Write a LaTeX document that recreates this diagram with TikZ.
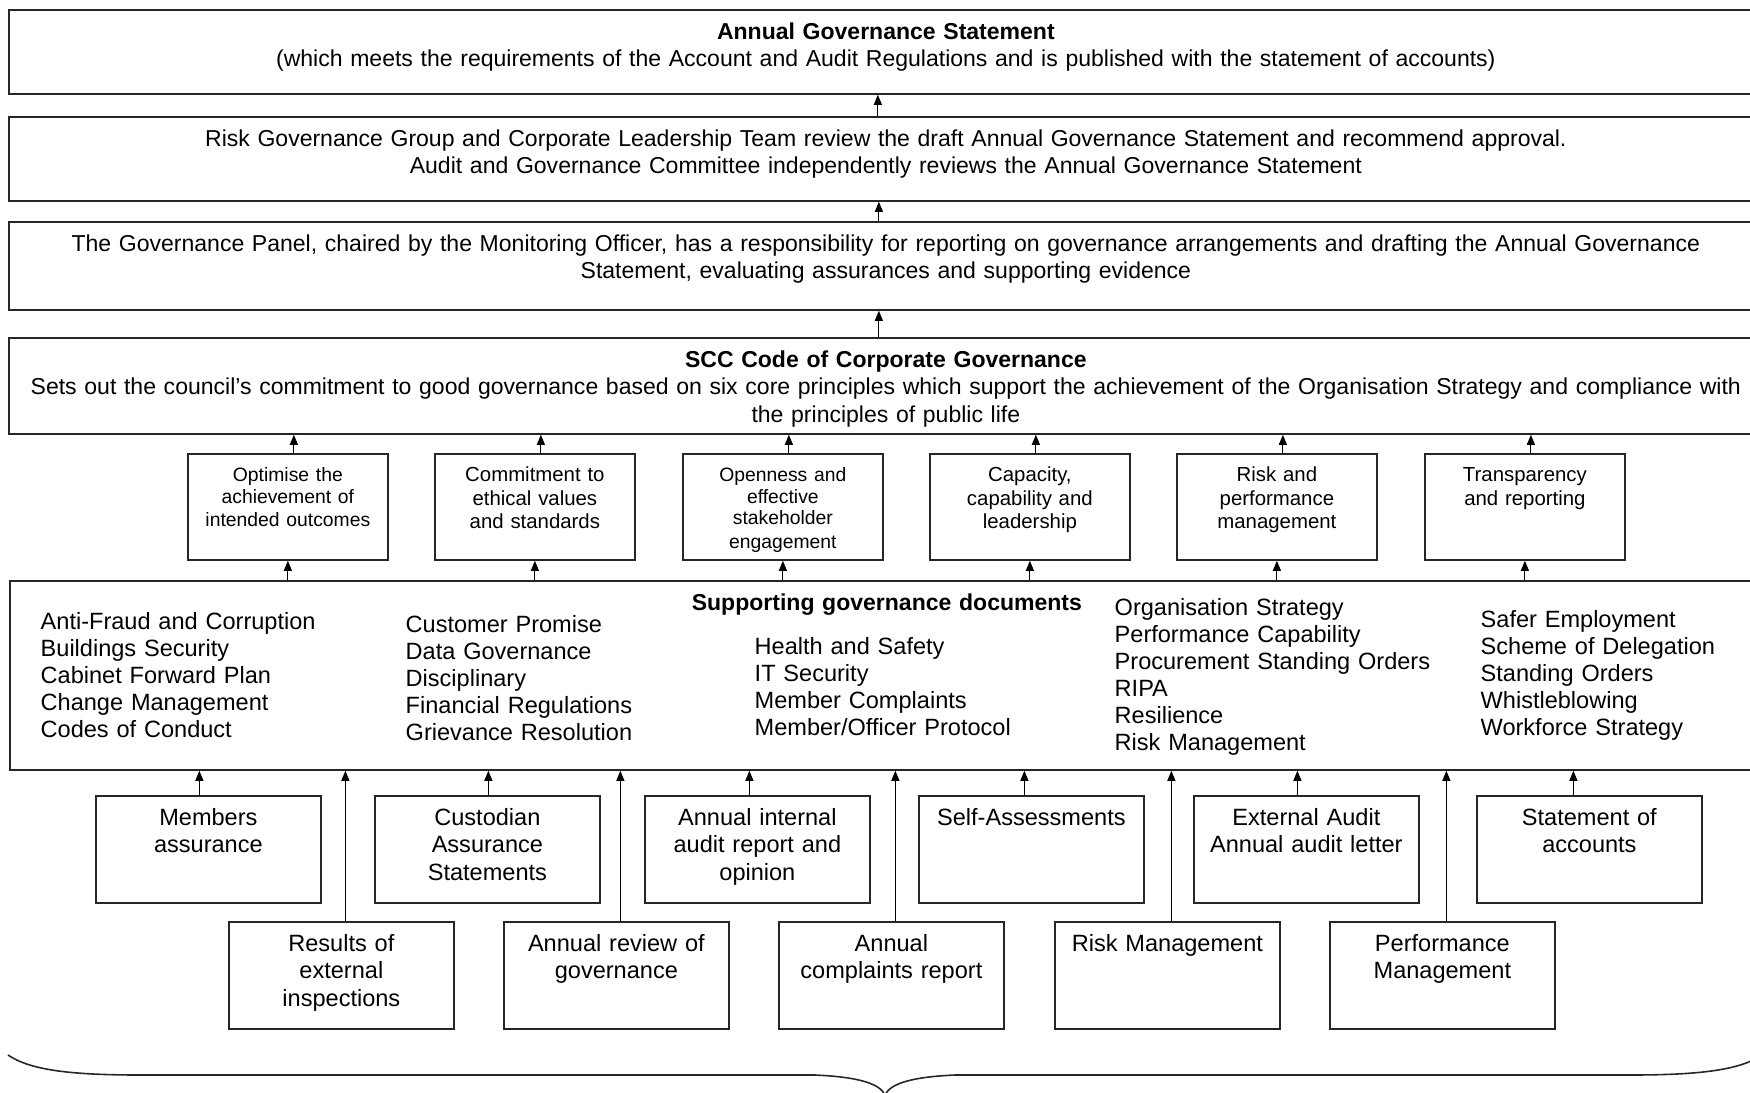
\documentclass[tikz,border=0pt]{standalone}
\usepackage{fontspec}
\setmainfont{Liberation Sans}
\usetikzlibrary{arrows.meta,calc}

\newcommand\bigtxt{\fontsize{6.7pt}{7.7pt}\selectfont}
\newcommand\widetxt{\fontsize{6.55pt}{7.7pt}\selectfont}
\newcommand\smalltxt{\fontsize{5.8pt}{6.7pt}\selectfont}
\newcommand\tinytxt{\fontsize{5.5pt}{6.1pt}\selectfont}

\tikzset{
  govbox/.style 2 args={draw=black!85, line width=.5pt, anchor=north west, inner sep=0pt,
    align=center, text width=#1, text height=3mm, text depth=#2, font=\bigtxt},
  widebox/.style={govbox={175.4mm}{#1}, font=\widetxt},
  princbox/.style={govbox={20mm}{7.8mm}, text height=2.8mm, font=\smalltxt},
  srcbox/.style={govbox={22.5mm}{7.7mm}},
  doclist/.style={anchor=base west, align=left, text width=40mm, inner sep=0pt, font=\bigtxt},
  arr/.style={-{Triangle[length=1mm,width=.8mm]}, line width=.3pt},
}

\begin{document}
\begin{tikzpicture}[x=0.1mm,y=-0.1mm]
  \useasboundingbox (0,0) rectangle (1750,1092);

  % statement chain
  \node[widebox=5.4mm] (ags) at (8,9) {\textbf{Annual Governance Statement}\\(which meets the requirements of the Account and Audit Regulations and is published with the statement of accounts)};
  \node[widebox=5.4mm] (review) at (8,116) {Risk Governance Group and Corporate Leadership Team review the draft Annual Governance Statement and recommend approval.\\Audit and Governance Committee independently reviews the Annual Governance Statement};
  \node[widebox=5.8mm] (panel) at (8,221) {The Governance Panel, chaired by the Monitoring Officer, has a responsibility for reporting on governance arrangements and drafting the Annual Governance\\Statement, evaluating assurances and supporting evidence};
  \node[widebox=6.6mm] (code) at (8,337) {\textbf{SCC Code of Corporate Governance}\\Sets out the council’s commitment to good governance based on six core principles which support the achievement of the Organisation Strategy and compliance with\\the principles of public life};

  % six core principles
  \foreach \x/\txt [count=\i] in {187/{\tinytxt Optimise the\\achievement of\\intended outcomes}, 434/{Commitment to\\ethical values\\and standards}, 682/{\tinytxt Openness and\\effective\\stakeholder\\engagement}, 929/{Capacity,\\capability and\\leadership}, 1176/{Risk and\\performance\\management}, 1424/{Transparency\\and reporting}}
    \node[princbox] (p\i) at (\x,453) {\txt};

  % supporting documents
  \node[widebox=15.9mm] (docs) at (9,580) {\textbf{Supporting governance documents}};
  \node[doclist] (col1) at ($(docs.north west)+(31,49)$) {Anti-Fraud and Corruption\\Buildings Security\\Cabinet Forward Plan\\Change Management\\Codes of Conduct};
  \node[doclist] (col2) at ($(docs.north west)+(396,52)$) {Customer Promise\\Data Governance\\Disciplinary\\Financial Regulations\\Grievance Resolution};
  \node[doclist] (col3) at ($(docs.north west)+(745,74)$) {Health and Safety\\IT Security\\Member Complaints\\Member/Officer Protocol};
  \node[doclist] (col4) at ($(docs.north west)+(1105,35)$) {Organisation Strategy\\Performance Capability\\Procurement Standing Orders\\RIPA\\Resilience\\Risk Management};
  \node[doclist] (col5) at ($(docs.north west)+(1471,47)$) {Safer Employment\\Scheme of Delegation\\Standing Orders\\Whistleblowing\\Workforce Strategy};

  % sources of assurance
  \foreach \x/\txt [count=\i] in {95/{Members\\assurance}, 374/{Custodian\\Assurance\\Statements}, 644/{Annual internal\\audit report and\\opinion}, 918/{Self-Assessments}, 1193/{External Audit\\Annual audit letter}, 1476/{Statement of\\accounts}}
    \node[srcbox] (s\i) at (\x,795) {\txt};
  \foreach \x/\txt [count=\i] in {228/{Results of\\external\\inspections}, 503/{Annual review of\\governance}, 778/{Annual\\complaints report}, 1054/{Risk Management}, 1329/{Performance\\Management}}
    \node[srcbox] (r\i) at (\x,921) {\txt};

  % arrows
  \draw[arr] ([xshift=-.8mm]review.north) -- ([xshift=-.8mm]ags.south);
  \draw[arr] ([xshift=-.7mm]panel.north) -- ([xshift=-.7mm]review.south);
  \draw[arr] ([xshift=-.7mm]code.north) -- ([xshift=-.7mm]panel.south);
  \foreach \i in {1,...,6} {
    \draw[arr] ([xshift=.6mm]p\i.north) -- ([xshift=.6mm]p\i.north |- code.south);
    \draw[arr] (p\i.south |- docs.north) -- (p\i.south);
  }
  \foreach \i/\dx in {1/-.9, 2/.1, 3/-.8, 4/-.7, 5/-.9, 6/-1.6}
    \draw[arr] ([xshift=\dx mm]s\i.north) -- ([xshift=\dx mm]s\i.north |- docs.south);
  \foreach \i in {1,...,5}
    \draw[arr] ([xshift=.4mm]r\i.north) -- ([xshift=.4mm]r\i.north |- docs.south);

  % brace
  \draw[line width=.45pt, black!85] (8,1055) .. controls (30,1070) and (70,1075) .. (140,1075) -- (815,1075)
    .. controls (860,1077) and (880,1084) .. (885,1095) .. controls (890,1084) and (910,1077) .. (955,1075)
    -- (1630,1075) .. controls (1700,1075) and (1740,1070) .. (1762,1055);
\end{tikzpicture}
\end{document}
